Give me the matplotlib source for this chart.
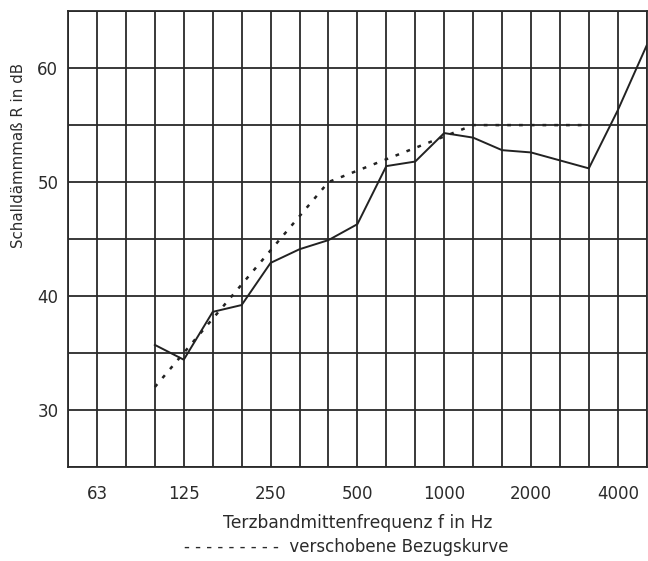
import numpy as np
import matplotlib
matplotlib.use("Agg")
import matplotlib.pyplot as plt

# Terzbänder 50 Hz .. 5000 Hz
bands = [50, 63, 80, 100, 125, 160, 200, 250, 315, 400, 500, 630,
         800, 1000, 1250, 1600, 2000, 2500, 3150, 4000, 5000]
tick_labels = [63, 125, 250, 500, 1000, 2000, 4000]

# gemessene Kurve (100 Hz .. 5000 Hz)
meas_freq = [100, 125, 160, 200, 250, 315, 400, 500, 630, 800, 1000,
             1250, 1600, 2000, 2500, 3150, 4000, 5000]
meas_R = [35.7, 34.4, 38.6, 39.2, 42.9, 44.1, 44.9, 46.3, 51.4, 51.8, 54.3,
          53.9, 52.8, 52.6, 51.9, 51.2, 56.3, 62.0]

# verschobene Bezugskurve (100 Hz .. 3150 Hz)
ref_freq = [100, 125, 160, 200, 250, 315, 400, 500, 630, 800, 1000,
            1250, 1600, 2000, 2500, 3150]
ref_R = [32, 35, 38, 41, 44, 47, 50, 51, 52, 53, 54, 55, 55, 55, 55, 55]

plt.rcParams['font.family'] = ['DejaVu Sans']

idx = {f: i for i, f in enumerate(bands)}
mx = [idx[f] for f in meas_freq]
rx = [idx[f] for f in ref_freq]

fig = plt.figure(figsize=(6.48, 5.61), dpi=100)
ax = fig.add_axes([0.105, 0.168, 0.893, 0.812])

line_col = '#2a2a2a'
txt_col = '#2b2b2b'
for i in range(len(bands)):
    ax.axvline(i, color=line_col, lw=1.3, zorder=1)
for y in range(25, 66, 5):
    ax.axhline(y, color=line_col, lw=1.3, zorder=1)

ax.plot(mx, meas_R, color='#222222', lw=1.4, zorder=3)
ax.plot(rx, ref_R, color='#222222', lw=1.8, linestyle=(0, (1.5, 3.2)), zorder=3)

ax.set_xlim(0, len(bands) - 1)
ax.set_ylim(25, 65)
ax.set_xticks([idx[f] for f in tick_labels])
ax.set_xticklabels([str(f) for f in tick_labels])
ax.set_yticks([30, 40, 50, 60])
ax.tick_params(length=0, labelsize=12, colors=txt_col, pad=7)
ax.tick_params(axis='x', pad=13)
for s in ax.spines.values():
    s.set_color(line_col)
    s.set_linewidth(1.3)

ax.set_ylabel("Schalldämmmaß R in dB", fontsize=10.8, color=txt_col)
ax.yaxis.set_label_coords(-0.072, 0.684)
ax.set_xlabel("Terzbandmittenfrequenz f in Hz", fontsize=12.3, color=txt_col, labelpad=8)
fig.text(0.534, 0.025, "- - - - - - - - -  verschobene Bezugskurve",
         ha='center', va='center', fontsize=12, color=txt_col)

fig.savefig("out.png", dpi=100)
